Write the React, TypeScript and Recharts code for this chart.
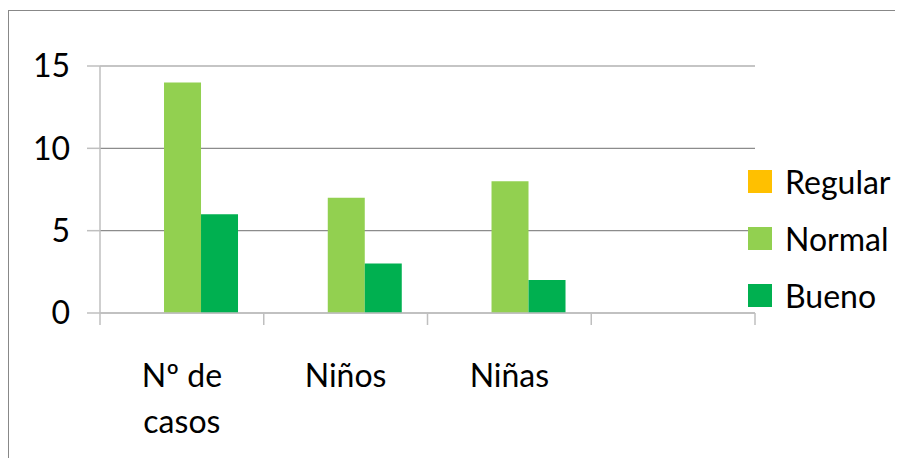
import { BarChart, Bar, XAxis, YAxis, CartesianGrid } from 'recharts'

// values (Excel-style clustered column chart)
const CATEGORIES = ['Nº de casos', 'Niños', 'Niñas', '']
const REGULAR = [0, 0, 0, null]
const NORMAL = [14, 7, 8, null]
const BUENO = [6, 3, 2, null]
const Y_TICKS = [0, 5, 10, 15]

const SERIES = [
  { key: 'regular', name: 'Regular', color: '#FFC000' },
  { key: 'normal', name: 'Normal', color: '#92D050' },
  { key: 'bueno', name: 'Bueno', color: '#00B050' },
]

const data = CATEGORIES.map((c, i) => ({
  cat: c,
  regular: REGULAR[i],
  normal: NORMAL[i],
  bueno: BUENO[i],
}))

const FONT = 'Lato, "Noto Sans", sans-serif'
const AXIS = '#bfbfbf'
const GRID = '#8c8c8c'

// wrap category text the way Excel does for narrow slots
function wrap(label: string) {
  const words = label.split(' ')
  const lines: string[] = []
  let cur = ''
  for (const w of words) {
    const next = cur ? cur + ' ' + w : w
    if (cur && next.length > 6) {
      lines.push(cur)
      cur = w
    } else cur = next
  }
  if (cur) lines.push(cur)
  return lines
}

function CategoryTick(props: any) {
  const { x, y, payload, index } = props
  const half = payload?.offset ?? 0
  const last = index === CATEGORIES.length - 1
  return (
    <g>
      <line x1={x - half} x2={x - half} y1={y} y2={y + 12} stroke={AXIS} strokeWidth={1.5} />
      {last && <line x1={x + half} x2={x + half} y1={y} y2={y + 12} stroke={AXIS} strokeWidth={1.5} />}
      {wrap(payload.value).map((l, i) => (
        <text key={i} x={x} y={y + 74 + i * 46} textAnchor="middle" fontSize={32} fontFamily={FONT} fill="#000">
          {l}
        </text>
      ))}
    </g>
  )
}

export default function App() {
  return (
    <div style={{ position: 'relative', width: 895, height: 450 }}>
      <div
        style={{
          position: 'absolute', left: 0, top: 2, width: 891, height: 470,
          border: '1.5px solid #888', borderBottom: 'none', boxSizing: 'border-box',
        }}
      />
      <BarChart
        width={895}
        height={450}
        data={data}
        margin={{ top: 58, right: 148, left: 0, bottom: 45 }}
        barCategoryGap="16.5%"
        barGap={0}
      >
        <CartesianGrid vertical={false} stroke={GRID} strokeWidth={1.2} />
        <XAxis
          dataKey="cat"
          stroke={AXIS}
          strokeWidth={1.5}
          tickLine={false}
          tickSize={0}
          tickMargin={0}
          height={100}
          interval={0}
          tick={<CategoryTick />}
        />
        <YAxis
          domain={[0, 15]}
          ticks={Y_TICKS}
          width={92}
          stroke={AXIS}
          strokeWidth={1.5}
          tickSize={13}
          tickMargin={17}
          tick={{ fill: '#000', fontSize: 32, fontFamily: FONT }}
        />
        {SERIES.map((s) => (
          <Bar key={s.key} dataKey={s.key} name={s.name} fill={s.color} isAnimationActive={false} />
        ))}
      </BarChart>
      <div style={{ position: 'absolute', left: 740, top: 145, fontFamily: FONT }}>
        {SERIES.map((s) => (
          <div key={s.key} style={{ height: 57, display: 'flex', alignItems: 'center' }}>
            <span style={{ width: 24, height: 23, background: s.color, display: 'inline-block', marginRight: 13 }} />
            <span style={{ fontSize: 32, color: '#000' }}>{s.name}</span>
          </div>
        ))}
      </div>
    </div>
  )
}
